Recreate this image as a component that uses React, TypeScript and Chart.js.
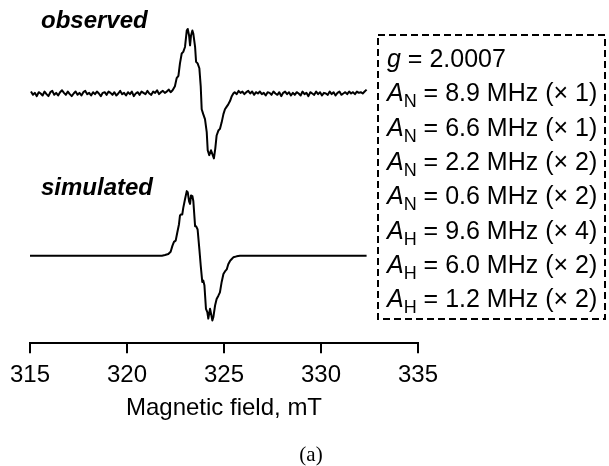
import { useEffect, useRef } from 'react';
import { Chart, registerables } from 'chart.js';

Chart.register(...registerables);

const FONT = '"Liberation Sans", Arial, Helvetica, sans-serif';
const SERIF = '"Liberation Serif", "Times New Roman", serif';

// x axis (magnetic field, mT)
const X_MIN = 315;
const X_MAX = 335;
const X_STEP = 5;

// observed spectrum: baseline noise sampled every 0.1 mT
const NOISE_STEP = 0.1;
const OBS_LEFT_START = 315.05;
const OBS_LEFT_NOISE = [
  0.03, -0.02, 0.01, -0.04, 0.02, 0.0, -0.03, 0.03, -0.01, -0.04,
  0.02, 0.04, -0.02, 0.01, -0.03, 0.02, 0.05, 0.01, -0.02, 0.03,
  -0.01, -0.04, 0.0, 0.03, -0.02, 0.01, -0.03, 0.02, 0.04, -0.01,
  0.01, -0.03, 0.02, -0.01, 0.03, 0.0, -0.04, 0.01, 0.02, -0.02,
  0.03, 0.01, -0.02, 0.02, -0.03, 0.0, 0.04, -0.01, 0.01, -0.03,
  0.02, -0.01, 0.03, -0.04, 0.0, 0.02, -0.02, 0.03, 0.01, -0.01,
  0.04, 0.0, -0.02, 0.03, 0.01, 0.05, -0.01, 0.02, 0.04, 0.01,
  0.03, 0.06, 0.02, 0.05,
];
// observed spectrum: central signal (field mT, intensity)
const OBS_PEAK_FIELD = [
  322.47, 322.56, 322.65, 322.73, 322.82, 322.9, 322.99, 323.08, 323.13, 323.2,
  323.25, 323.3, 323.37, 323.42, 323.51, 323.56, 323.64, 323.73, 323.8, 323.85,
  323.93, 324.02, 324.11, 324.16, 324.24, 324.33, 324.42, 324.48, 324.55, 324.62,
  324.71, 324.79, 324.88, 324.97, 325.05, 325.14, 325.22, 325.31, 325.4, 325.48,
];
const OBS_PEAK_VALUE = [
  0.11, 0.235, 0.27, 0.46, 0.61, 0.635, 0.71, 0.96, 0.985, 0.885,
  0.735, 0.885, 0.96, 0.91, 0.71, 0.485, 0.46, 0.385, 0.11, -0.24,
  -0.315, -0.39, -0.59, -0.865, -0.94, -0.865, -0.94, -0.99, -0.84, -0.64,
  -0.565, -0.54, -0.44, -0.315, -0.24, -0.2, -0.165, -0.115, -0.04, 0.0,
];
const OBS_RIGHT_START = 325.55;
const OBS_RIGHT_NOISE = [
  0.02, -0.01, 0.04, 0.01, 0.03, -0.01, 0.02, 0.04, 0.0, 0.03,
  -0.02, 0.02, 0.0, 0.03, -0.01, 0.01, -0.03, 0.02, 0.01, -0.02,
  0.03, 0.0, -0.02, 0.02, -0.04, 0.01, 0.03, -0.01, 0.02, -0.03,
  0.01, -0.02, 0.02, 0.0, -0.03, 0.03, -0.01, 0.01, -0.04, 0.02,
  0.0, -0.02, 0.03, -0.01, 0.02, -0.03, 0.01, 0.0, -0.02, 0.03,
  -0.01, 0.02, -0.03, 0.01, 0.03, -0.02, 0.0, 0.02, -0.01, 0.03,
  0.0, 0.02, -0.01, 0.03, 0.01, 0.02, 0.0, 0.03, 0.06,
];

// simulated spectrum (field mT, intensity)
const SIM_FIELD = [
  315.0, 321.8, 321.96, 322.13, 322.25, 322.34, 322.42, 322.51, 322.59, 322.68,
  322.73, 322.78, 322.85, 322.9, 322.99, 323.08, 323.13, 323.2, 323.25, 323.3,
  323.37, 323.42, 323.51, 323.56, 323.64, 323.73, 323.8, 323.88, 323.93, 323.99,
  324.07, 324.14, 324.19, 324.28, 324.33, 324.4, 324.45, 324.54, 324.62, 324.71,
  324.79, 324.88, 324.97, 325.05, 325.14, 325.22, 325.31, 325.4, 325.48, 325.65,
  325.82, 332.35,
];
const SIM_VALUE = [
  0.0, 0.0, 0.01, 0.025, 0.06, 0.15, 0.21, 0.23, 0.35, 0.48,
  0.61, 0.63, 0.63, 0.73, 0.86, 0.985, 0.97, 0.83, 0.79, 0.92,
  0.91, 0.83, 0.45, 0.45, 0.4, 0.1, -0.15, -0.4, -0.38, -0.45,
  -0.81, -0.86, -0.96, -0.81, -0.88, -0.99, -0.94, -0.76, -0.66, -0.61,
  -0.56, -0.4, -0.28, -0.24, -0.21, -0.13, -0.08, -0.05, -0.025, -0.01,
  0.0, 0.0,
];

// vertical stacking offset of the observed trace (intensity units)
const OBS_OFFSET = 2.474;

// hyperfine parameters box
const HFC_SYMBOL = ['g', 'A', 'A', 'A', 'A', 'A', 'A', 'A'];
const HFC_SUB = ['', 'N', 'N', 'N', 'N', 'H', 'H', 'H'];
const HFC_VALUE = ['2.0007', '8.9', '6.6', '2.2', '0.6', '9.6', '6.0', '1.2'];
const HFC_COUNT = [0, 1, 1, 2, 2, 4, 2, 2];

const TRACE_LABELS = ['observed', 'simulated'];
const CAPTION = '(a)';
const X_TITLE = 'Magnetic field, mT';

function buildObserved() {
  const pts: { x: number; y: number }[] = [];
  OBS_LEFT_NOISE.forEach((v, i) => pts.push({ x: OBS_LEFT_START + i * NOISE_STEP, y: v }));
  OBS_PEAK_FIELD.forEach((f, i) => pts.push({ x: f, y: OBS_PEAK_VALUE[i] }));
  OBS_RIGHT_NOISE.forEach((v, i) => pts.push({ x: OBS_RIGHT_START + i * NOISE_STEP, y: v }));
  return pts.map((p) => ({ x: p.x, y: p.y + OBS_OFFSET }));
}

function buildSimulated() {
  return SIM_FIELD.map((f, i) => ({ x: f, y: SIM_VALUE[i] }));
}

const annotationPlugin = {
  id: 'annotations',
  afterDraw(chart: any) {
    const ctx: CanvasRenderingContext2D = chart.ctx;
    ctx.save();
    ctx.fillStyle = '#000';
    ctx.textBaseline = 'alphabetic';
    ctx.textAlign = 'left';

    // trace labels
    ctx.font = `italic bold 24px ${FONT}`;
    ctx.fillText(TRACE_LABELS[0], 41, 28);
    ctx.fillText(TRACE_LABELS[1], 41, 195);

    // dashed parameter box
    ctx.strokeStyle = '#000';
    ctx.lineWidth = 2;
    ctx.setLineDash([7, 4]);
    ctx.strokeRect(378, 35, 227, 284);
    ctx.setLineDash([]);

    for (let i = 0; i < HFC_SYMBOL.length; i++) {
      const y = 67 + i * 34.3;
      let x = 387;
      ctx.font = `italic 25px ${FONT}`;
      ctx.fillText(HFC_SYMBOL[i], x, y);
      x += ctx.measureText(HFC_SYMBOL[i]).width;
      if (HFC_SUB[i]) {
        ctx.font = `18px ${FONT}`;
        ctx.fillText(HFC_SUB[i], x, y + 6);
        x += ctx.measureText(HFC_SUB[i]).width;
      }
      ctx.font = `25px ${FONT}`;
      const rest = HFC_COUNT[i]
        ? ` = ${HFC_VALUE[i]} MHz (\u00d7 ${HFC_COUNT[i]})`
        : ` = ${HFC_VALUE[i]}`;
      ctx.fillText(rest, x, y);
    }

    // caption
    ctx.font = `21px ${SERIF}`;
    ctx.textAlign = 'center';
    ctx.fillText(CAPTION, 311, 461);
    ctx.restore();
  },
};

export default function App() {
  const ref = useRef<HTMLCanvasElement | null>(null);

  useEffect(() => {
    if (!ref.current) return;
    const chart = new Chart(ref.current, {
      type: 'line',
      data: {
        datasets: [
          {
            label: TRACE_LABELS[0],
            data: buildObserved(),
            borderColor: '#000',
            borderWidth: 2,
            pointRadius: 0,
            tension: 0,
            clip: false as any,
            borderJoinStyle: 'round',
          },
          {
            label: TRACE_LABELS[1],
            data: buildSimulated(),
            borderColor: '#000',
            borderWidth: 2,
            pointRadius: 0,
            tension: 0,
            clip: false as any,
            borderJoinStyle: 'round',
          },
        ],
      },
      options: {
        animation: false,
        responsive: false,
        layout: { padding: { left: 30, right: 191, top: 10, bottom: 42 } },
        plugins: { legend: { display: false }, tooltip: { enabled: false } },
        scales: {
          x: {
            type: 'linear',
            min: X_MIN,
            max: X_MAX,
            ticks: {
              stepSize: X_STEP,
              color: '#000',
              font: { family: FONT, size: 24 },
              padding: 8,
              maxRotation: 0,
              autoSkip: false,
            },
            grid: {
              display: true,
              drawOnChartArea: false,
              drawTicks: true,
              tickLength: 10,
              color: '#000',
              lineWidth: 2,
            },
            border: { display: true, color: '#000', width: 2 },
            title: {
              display: true,
              text: X_TITLE,
              color: '#000',
              font: { family: FONT, size: 24, lineHeight: 1 },
              padding: { top: -2, bottom: 4 },
            },
          },
          y: { display: false, min: -1.335, max: 3.748 },
        },
      },
      plugins: [annotationPlugin],
    });
    return () => chart.destroy();
  }, []);

  return (
    <div style={{ position: 'absolute', left: 0, top: 0, width: 609, height: 466, background: '#fff' }}>
      <canvas ref={ref} width={609} height={466} style={{ display: 'block' }} />
    </div>
  );
}
